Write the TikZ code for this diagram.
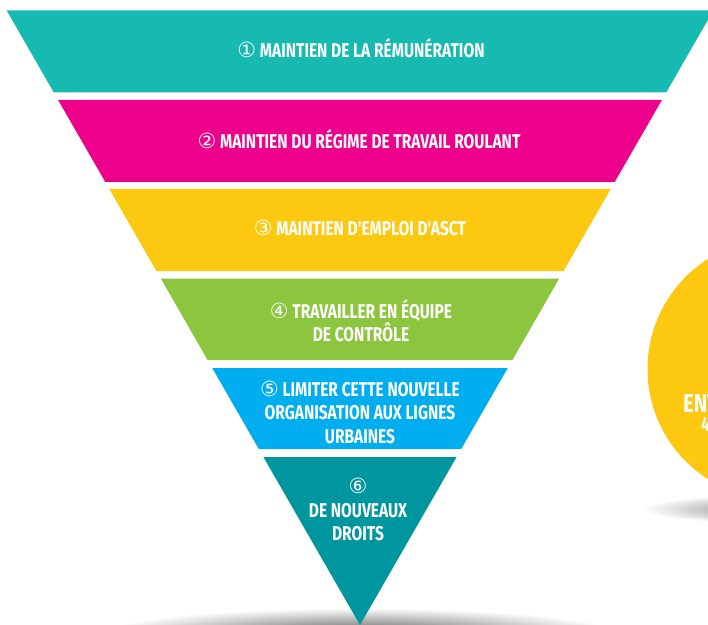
\documentclass[tikz,border=0pt]{standalone}
\usepackage{fontspec}
\usepackage{tikz}
\usetikzlibrary{positioning}

\newfontfamily\bandfont[FakeStretch=0.78]{Fira Sans}
\newfontfamily\numfont{DejaVu Sans}
\definecolor{bandteal}{RGB}{22,186,176}
\definecolor{bandpink}{RGB}{236,0,140}
\definecolor{bandyellow}{RGB}{252,201,16}
\definecolor{bandgreen}{RGB}{140,198,63}
\definecolor{bandblue}{RGB}{0,174,239}
\definecolor{banddark}{RGB}{0,150,159}
\newcommand{\cnum}[1]{{\numfont\mdseries\fontsize{21}{21}\selectfont #1}}

\begin{document}
\begin{tikzpicture}[x=1bp,y=-1bp,node distance=23.5bp,on grid,
		bandtext/.style={text=white,inner sep=0pt,text height=14bp,text depth=0bp,
			font=\bandfont\bfseries\fontsize{20}{24}\selectfont},
		bigtext/.style={text=white,inner sep=0pt,anchor=base west,
			font=\bandfont\bfseries\fontsize{26}{30}\selectfont}]
			\useasboundingbox (0,0) rectangle (708,625);
			\clip (0,0) rectangle (708,625);
			% shadows
			\shade[inner color=black!65,outer color=white] (360,634) ellipse (260 and 26);
			\shade[inner color=black!55,outer color=white] (792,509) ellipse (150 and 15);
			% disc on the right
			\fill[bandyellow] (778,369) circle (130.5);
			\node[bigtext] (disc1) at (683,412) {ENT};
			\node[bigtext,font=\bandfont\bfseries\fontsize{20}{24}\selectfont] (disc2) at (701,431) {4};
			% funnel
			\fill[bandteal] (6.7,10.5) -- (713.3,10.5) -- (666.2,92.5) -- (53.8,92.5) -- cycle;
			\fill[bandpink] (58.1,100) -- (661.9,100) -- (614.7,182) -- (105.3,182) -- cycle;
			\fill[bandyellow] (109.3,189) -- (610.7,189) -- (563.6,271) -- (156.4,271) -- cycle;
			\fill[bandgreen] (160.8,278.5) -- (559.2,278.5) -- (512.4,360) -- (207.6,360) -- cycle;
			\fill[bandblue] (212.2,368) -- (507.8,368) -- (461.2,449) -- (258.8,449) -- cycle;
			\fill[banddark] (263.4,457) -- (456.6,457) -- (360,625) -- cycle;
			% texts
			\node[bandtext] (t1) at (361,50.5) {\cnum{①} MAINTIEN DE LA RÉMUNÉRATION};
			\node[bandtext] (t2) at (359,142) {\cnum{②} MAINTIEN DU RÉGIME DE TRAVAIL ROULANT};
			\node[bandtext] (t3) at (360,228.5) {\cnum{③} MAINTIEN D'EMPLOI D'ASCT};
			\node[bandtext] (t4a) at (361,311) {\cnum{④} TRAVAILLER EN ÉQUIPE};
			\node[bandtext] (t4b) [below=of t4a] {DE CONTRÔLE};
			\node[bandtext] (t5a) at (360,389) {\cnum{⑤} LIMITER CETTE NOUVELLE};
			\node[bandtext] (t5b) [below=of t5a] {ORGANISATION AUX LIGNES};
			\node[bandtext] (t5c) [below=of t5b] {URBAINES};
			\node[bandtext] (t6n) at (358,486.5) {\cnum{⑥}};
			\node[bandtext] (t6a) [below=of t6n] {DE NOUVEAUX};
			\node[bandtext] (t6b) [below=of t6a] {DROITS};
	\end{tikzpicture}
\end{document}
